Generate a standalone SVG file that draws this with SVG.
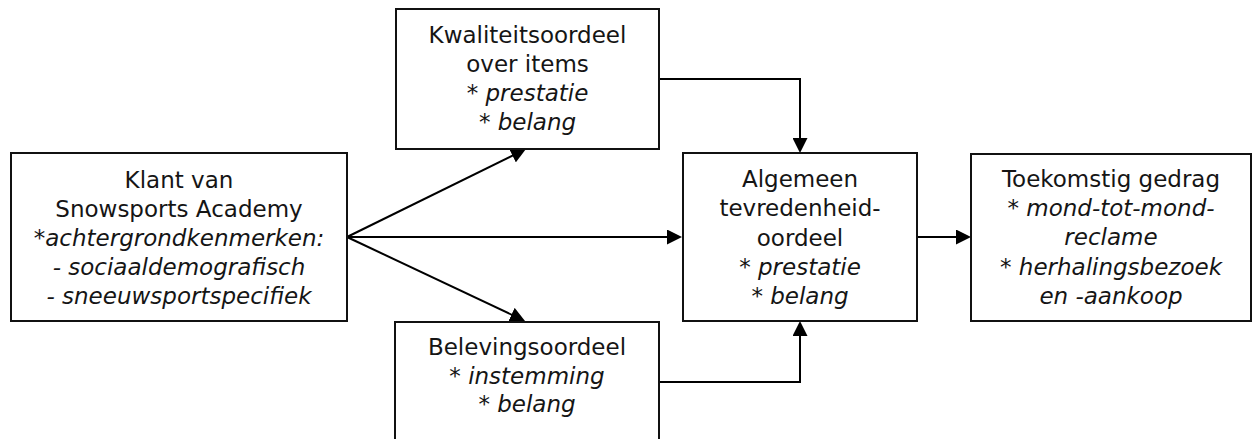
<svg xmlns="http://www.w3.org/2000/svg" width="1252" height="439" viewBox="0 0 1252 439">
  <style>
    .box { fill: none; stroke: #111; stroke-width: 2; }
    .t { font-family: "DejaVu Sans", "Liberation Sans", sans-serif; font-size: 23px; fill: #151515; text-anchor: middle; }
    .i { font-style: italic; }
    .c { fill: none; stroke: #000; stroke-width: 2; }
  </style>
  <defs>
    <marker id="arr" markerUnits="userSpaceOnUse" markerWidth="15" markerHeight="15" refX="10" refY="7.5" orient="auto">
      <path d="M0,0 L15,7.5 L0,15 z" fill="#000"/>
    </marker>
  </defs>
  <rect width="1252" height="439" fill="#fff"/>

  <g id="connectors">
    <line class="c" x1="347" y1="237" x2="521.5" y2="151.2" marker-end="url(#arr)"/>
    <line class="c" x1="347" y1="237" x2="520.5" y2="318.9" marker-end="url(#arr)"/>
    <line class="c" x1="347" y1="237" x2="677" y2="237" marker-end="url(#arr)"/>
    <path class="c" d="M659,79 H800 V148" marker-end="url(#arr)"/>
    <path class="c" d="M659,382 H800 V326" marker-end="url(#arr)"/>
    <line class="c" x1="917" y1="237" x2="966" y2="237" marker-end="url(#arr)"/>
  </g>

  <g id="klant">
    <rect class="box" x="11" y="153" width="336" height="168"/>
    <text class="t" x="179" y="188">Klant van</text>
    <text class="t" x="179" y="217">Snowsports Academy</text>
    <text class="t i" x="179" y="246">*achtergrondkenmerken:</text>
    <text class="t i" x="179" y="275">- sociaaldemografisch</text>
    <text class="t i" x="179" y="304">- sneeuwsportspecifiek</text>
  </g>

  <g id="kwaliteit">
    <rect class="box" x="396" y="9" width="263" height="140"/>
    <text class="t" x="527.5" y="43">Kwaliteitsoordeel</text>
    <text class="t" x="527.5" y="72">over items</text>
    <text class="t" x="527.5" y="101">* <tspan class="i">prestatie</tspan></text>
    <text class="t" x="527.5" y="130">* <tspan class="i">belang</tspan></text>
  </g>

  <g id="beleving">
    <rect class="box" x="395" y="322" width="264" height="130"/>
    <text class="t" x="527" y="355">Belevingsoordeel</text>
    <text class="t" x="527" y="384">* <tspan class="i">instemming</tspan></text>
    <text class="t" x="527" y="412">* <tspan class="i">belang</tspan></text>
  </g>

  <g id="algemeen">
    <rect class="box" x="683" y="153" width="234" height="168"/>
    <text class="t" x="800" y="187">Algemeen</text>
    <text class="t" x="800" y="216">tevredenheid-</text>
    <text class="t" x="800" y="245.5">oordeel</text>
    <text class="t" x="800" y="275">* <tspan class="i">prestatie</tspan></text>
    <text class="t" x="800" y="303.5">* <tspan class="i">belang</tspan></text>
  </g>

  <g id="toekomstig">
    <rect class="box" x="971" y="154" width="280" height="167"/>
    <text class="t" x="1111" y="187">Toekomstig gedrag</text>
    <text class="t" x="1111" y="215.5">* <tspan class="i">mond-tot-mond-</tspan></text>
    <text class="t i" x="1111" y="245">reclame</text>
    <text class="t" x="1111" y="275">* <tspan class="i">herhalingsbezoek</tspan></text>
    <text class="t i" x="1111" y="303.5">en -aankoop</text>
  </g>
</svg>
